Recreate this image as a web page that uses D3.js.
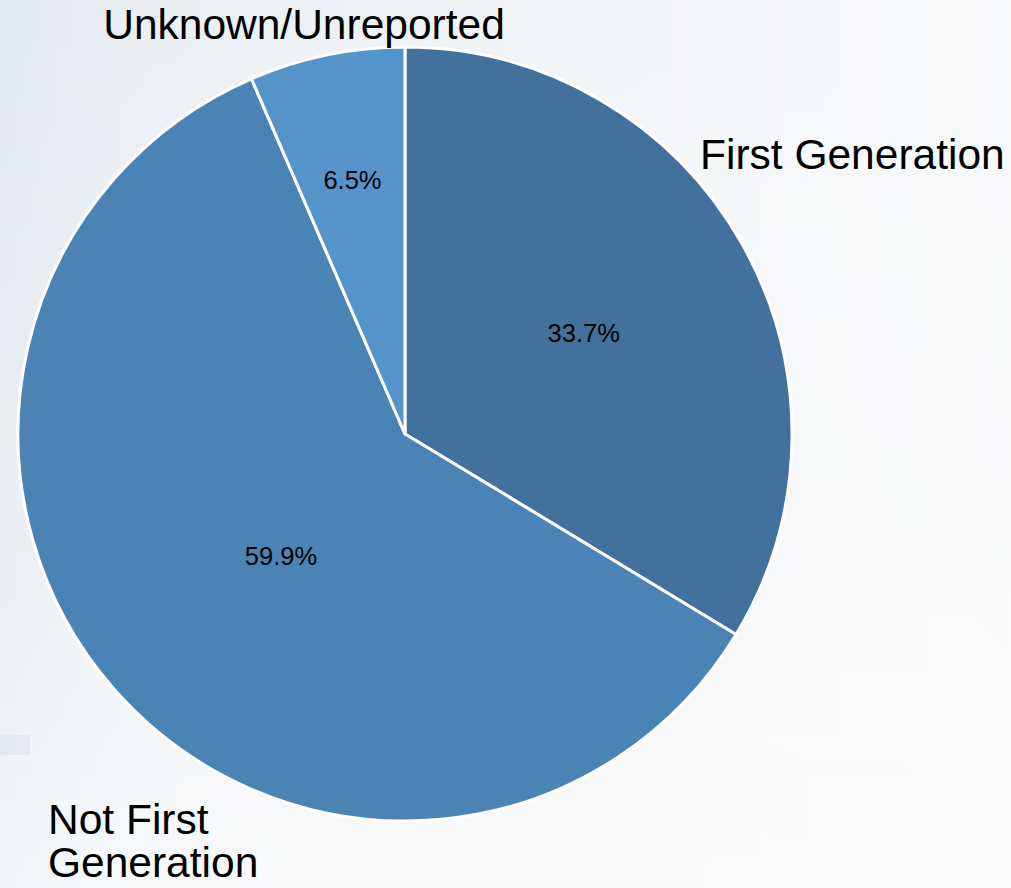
<!DOCTYPE html>
<html>
<head>
<meta charset="utf-8">
<script src="https://cdn.jsdelivr.net/npm/d3@7"></script>
<style>
  html, body { margin: 0; padding: 0; background: #f3f6f9; }
  svg { display: block; }
</style>
</head>
<body>
<svg id="chart" width="1011" height="888"></svg>
<script>
// ---- data ----
const categories = ["First Generation", "Not First Generation", "Unknown/Unreported"];
const values = [33.7, 59.9, 6.5];
const valueLabels = ["33.7%", "59.9%", "6.5%"];
const colors = ["#43719e", "#4c83b5", "#5594ca"];

// ---- layout ----
const W = 1011, H = 888;
const cx = 405, cy = 434, R = 387;
// inside-label placement (radius fraction, angular shift in degrees)
const labelRadiusFrac = [0.53, 0.45, 0.67];
const labelAngleShift = [0, -3.5, 0];

const svg = d3.select("#chart");

// background (soft, faded photo-like)
const defs = svg.append("defs");
const bg = defs.append("linearGradient").attr("id", "bg").attr("x1", 0).attr("x2", 1).attr("y1", 0).attr("y2", 0);
bg.append("stop").attr("offset", "0").attr("stop-color", "#e1e8ee");
bg.append("stop").attr("offset", "0.12").attr("stop-color", "#eaeff4");
bg.append("stop").attr("offset", "0.5").attr("stop-color", "#f1f4f7");
bg.append("stop").attr("offset", "1").attr("stop-color", "#f7f9fb");
svg.append("rect").attr("width", W).attr("height", H).attr("fill", "url(#bg)");

const bg2 = defs.append("linearGradient").attr("id", "bg2").attr("x1", 0).attr("x2", 0).attr("y1", 0).attr("y2", 1);
bg2.append("stop").attr("offset", "0").attr("stop-color", "#ffffff").attr("stop-opacity", 0);
bg2.append("stop").attr("offset", "0.7").attr("stop-color", "#ffffff").attr("stop-opacity", 0.35);
bg2.append("stop").attr("offset", "1").attr("stop-color", "#ffffff").attr("stop-opacity", 0.6);
svg.append("rect").attr("width", W).attr("height", H).attr("fill", "url(#bg2)");
// faint soft shapes
svg.append("rect").attr("x", 750).attr("y", 610).attr("width", 261).attr("height", 150).attr("rx", 60)
  .attr("fill", "#ffffff").attr("opacity", 0.2);
svg.append("rect").attr("x", 0).attr("y", 735).attr("width", 30).attr("height", 20)
  .attr("fill", "#dce4eb").attr("opacity", 0.6);

// ---- pie ----
const pie = d3.pie().sort(null).value(d => d)
  .startAngle(0).endAngle(2 * Math.PI);
const arcs = pie(values);
const arc = d3.arc().innerRadius(0).outerRadius(R);

const g = svg.append("g").attr("transform", `translate(${cx},${cy})`);
g.selectAll("path.slice").data(arcs).join("path")
  .attr("class", "slice")
  .attr("d", arc)
  .attr("fill", (d, i) => colors[i])
  .attr("stroke", "#ffffff")
  .attr("stroke-width", 3)
  .attr("stroke-linejoin", "round");

// inside value labels
g.selectAll("text.val").data(arcs).join("text")
  .attr("class", "val")
  .attr("transform", (d, i) => {
    const a = (d.startAngle + d.endAngle) / 2 + labelAngleShift[i] * Math.PI / 180;
    const r = R * labelRadiusFrac[i];
    return `translate(${r * Math.sin(a)},${-r * Math.cos(a)})`;
  })
  .attr("text-anchor", "middle")
  .attr("dy", "0.35em")
  .attr("font-family", "Liberation Sans, Arial, sans-serif")
  .attr("font-size", 25.5)
  .attr("fill", "#000")
  .text((d, i) => valueLabels[i]);

// outer category labels
const font = "Liberation Sans, Arial, sans-serif";
const outer = svg.append("g").attr("font-family", font).attr("font-size", 42.5).attr("fill", "#000");
outer.append("text").attr("x", 700).attr("y", 169).text(categories[0]);
const nf = outer.append("text").attr("x", 48).attr("y", 834);
nf.append("tspan").attr("x", 48).text("Not First");
nf.append("tspan").attr("x", 48).attr("dy", 43).text("Generation");
outer.append("text").attr("x", 304).attr("y", 39).attr("text-anchor", "middle").text(categories[2]);
</script>
</body>
</html>
